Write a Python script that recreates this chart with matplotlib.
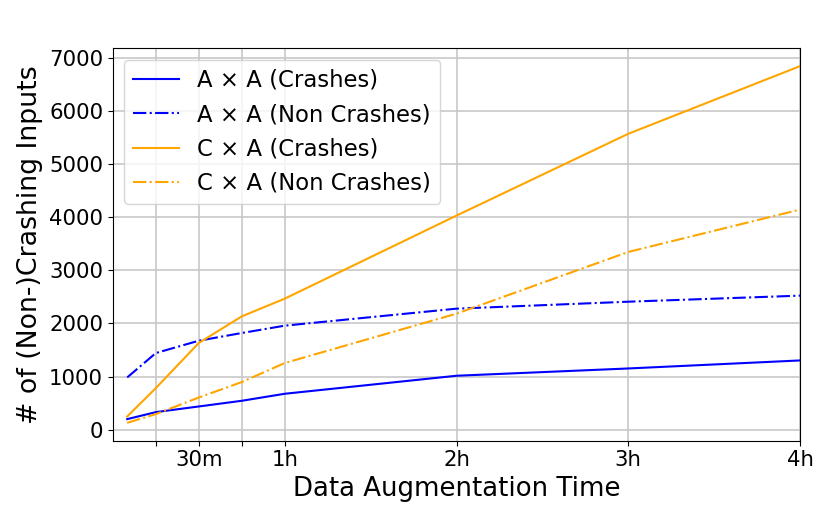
import matplotlib
matplotlib.use('Agg')
import matplotlib.pyplot as plt

# Minutes of data augmentation
tempo = [5, 15, 30, 45, 60, 120, 180, 240]

aa_crashes = [201, 333, 439, 546, 678, 1017, 1154, 1305]
aa_non_crashes = [985, 1444, 1676, 1821, 1959, 2279, 2410, 2524]
ca_crashes = [251, 785, 1633, 2134, 2467, 4030, 5569, 6842]
ca_non_crashes = [132, 295, 608, 898, 1256, 2185, 3346, 4143]

xticks = [15, 30, 45, 60, 120, 180, 240]
xticklabels = ['', '30m', '', '1h', '2h', '3h', '4h']
yticks = [0, 1000, 2000, 3000, 4000, 5000, 6000, 7000]

fig, ax = plt.subplots(figsize=(8.3, 5.19), dpi=100)

ax.plot(tempo, aa_crashes, '-', color='blue', label='A \u00d7 A (Crashes)')
ax.plot(tempo, aa_non_crashes, '-.', color='blue', label='A \u00d7 A (Non Crashes)')
ax.plot(tempo, ca_crashes, '-', color='orange', label='C \u00d7 A (Crashes)')
ax.plot(tempo, ca_non_crashes, '-.', color='orange', label='C \u00d7 A (Non Crashes)')

ax.set_xlim(0, 240)
ax.set_xticks(xticks)
ax.set_xticklabels(xticklabels)
ax.set_yticks(yticks)
ax.tick_params(labelsize=15.3)
ax.grid(True, color='#c8c8c8', linewidth=1.2)

ax.set_xlabel('Data Augmentation Time', fontsize=18.7)
ax.set_ylabel('# of (Non-)Crashing Inputs', fontsize=19.3)
ax.legend(loc='upper left', fontsize=16.4)

plt.subplots_adjust(left=0.136, right=0.964, top=0.907, bottom=0.151)
plt.savefig('out.png')
